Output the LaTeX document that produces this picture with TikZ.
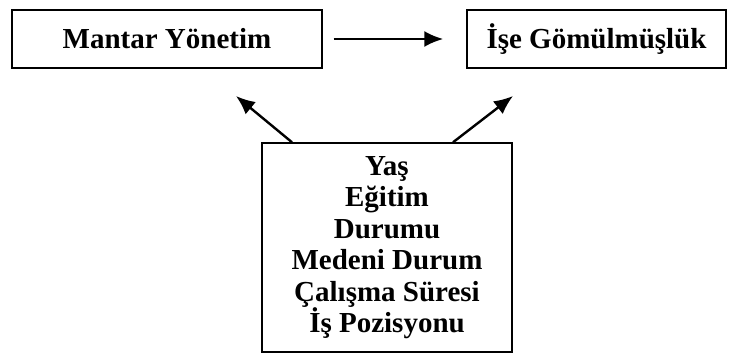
\documentclass[tikz,border=0pt]{standalone}
\usepackage{fontspec}
\setmainfont{Liberation Serif}
\usepackage{tikz}
\usetikzlibrary{arrows.meta}

\begin{document}
\begin{tikzpicture}[x=1pt,y=1pt]
  \tikzstyle{VARbox}=[rectangle,draw=black,line width=1.4pt,inner sep=0pt,font=\fontsize{29}{31.5}\selectfont\bfseries,align=center]
  \tikzstyle{VARarrow}=[line width=2.4pt,-{Latex[length=19pt,width=16pt]}]
  \useasboundingbox (0,0) rectangle (741,358);

  \node[VARbox, minimum width=310pt, minimum height=58pt] (mantar) at (167,319) {Mantar Yönetim};
  \node[VARbox, minimum width=259pt, minimum height=58pt] (gomulme) at (596.5,319) {İşe Gömülmüşlük};

  % control variables
  \node[VARbox, minimum width=250pt, minimum height=209pt] (kontrol) at (387,110.5)
    {Yaş\\Eğitim\\Durumu\\Medeni Durum\\Çalışma Süresi\\İş Pozisyonu};

  \coordinate (tipL) at (236,262);
  \coordinate (tipR) at (513,262);

  % edges
  \draw[VARarrow] ([xshift=11pt]mantar.east) -> ([xshift=-23pt]gomulme.west);
  \draw[VARarrow] ([xshift=-95pt]kontrol.north) -> (tipL);
  \draw[VARarrow] ([xshift=66pt]kontrol.north) -> (tipR);

\end{tikzpicture}
\end{document}
